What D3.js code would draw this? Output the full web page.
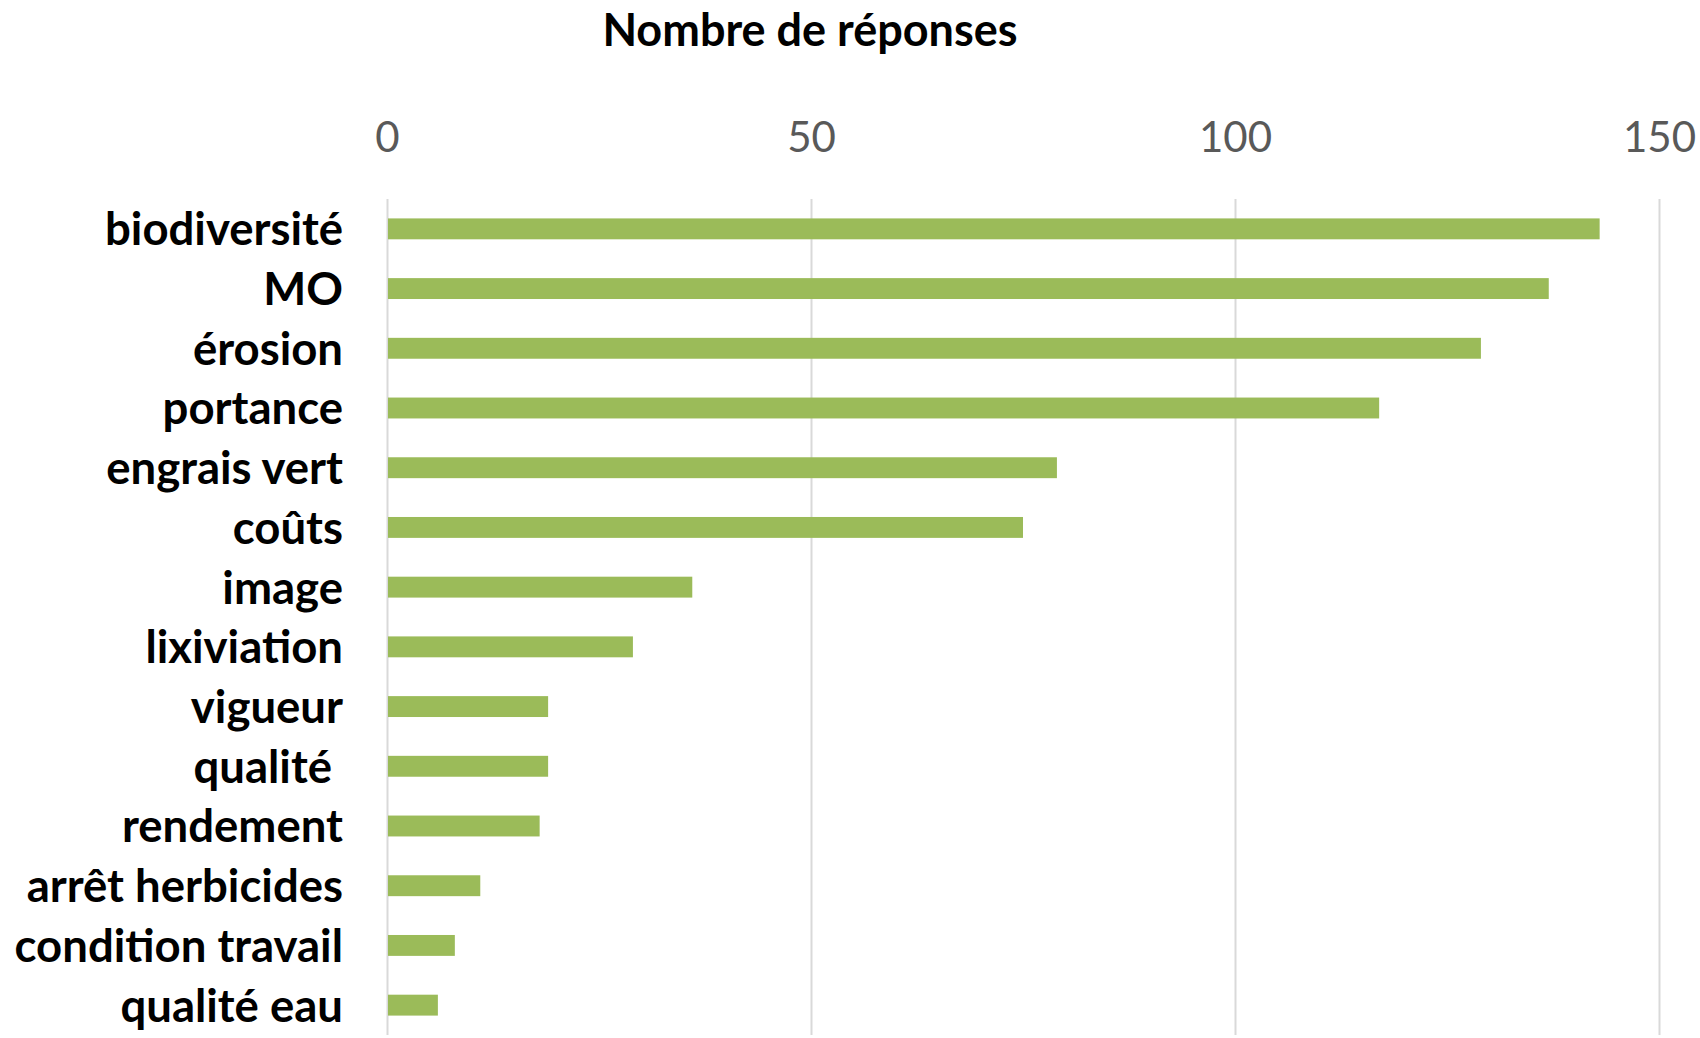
<!DOCTYPE html>
<meta charset="utf-8">
<head>
	<title>Nombre de réponses</title>
</head>
<style>
	body { margin: 0; background: #fff; }
	text { font-family: Lato, "Noto Sans", sans-serif; }
</style>
<body>
	<svg width="1700" height="1038"></svg>

	<script src="https://cdnjs.cloudflare.com/ajax/libs/d3/7.8.5/d3.min.js"></script>
	<script>
		var categories = ["biodiversité", "MO", "érosion", "portance", "engrais vert", "coûts", "image",
			"lixiviation", "vigueur", "qualité ", "rendement", "arrêt herbicides", "condition travail", "qualité eau"];
		var responses = [143, 137, 129, 117, 79, 75, 36, 29, 19, 19, 18, 11, 8, 6];
		var tickValues = [0, 50, 100, 150];

		var svg = d3.select("svg"),
			margin = {top: 199, right: 41, bottom: 3, left: 387},
			width = svg.attr("width") - margin.left - margin.right,
			height = svg.attr("height") - margin.top - margin.bottom;

		var g = svg.append("g")
			.attr("transform", "translate(" + margin.left + "," + margin.top + ")");

		var x = d3.scaleLinear()
			.domain([0, 150])
			.range([0, width]);

		var y = d3.scaleBand()
			.domain(categories)
			.range([0, height])
			.paddingInner(0.65)
			.paddingOuter(0.325);

		// x axis on top with gridlines running down
		var xAxis = d3.axisTop(x)
			.tickValues(tickValues)
			.tickSize(-height)
			.tickPadding(47);

		g.append("g")
			.call(xAxis)
			.call(function(a) {
				a.select(".domain").remove();
				a.selectAll(".tick line").attr("stroke", "#d9d9d9").attr("stroke-width", 2);
				a.selectAll(".tick text")
					.attr("fill", "#595959")
					.style("font-size", "42px");
			});

		// bars
		g.selectAll("rect.bar")
			.data(responses)
			.enter()
			.append("rect")
			.attr("class", "bar")
			.attr("x", x(0) + 1)
			.attr("y", function(d, i) { return y(categories[i]); })
			.attr("width", function(d) { return x(d) - x(0) - 1; })
			.attr("height", y.bandwidth())
			.attr("fill", "#9bbb59");

		// category labels
		var yAxis = d3.axisLeft(y)
			.tickSize(0)
			.tickPadding(44);

		g.append("g")
			.call(yAxis)
			.call(function(a) {
				a.select(".domain").remove();
				a.selectAll(".tick text")
					.attr("fill", "#000")
					.attr("dy", "0.36em")
					.style("font-size", "45.5px")
					.style("font-weight", "bold")
					.style("white-space", "pre");
			});

		// title
		svg.append("text")
			.attr("x", 810)
			.attr("y", 46)
			.attr("text-anchor", "middle")
			.style("font-size", "45px")
			.style("font-weight", "bold")
			.text("Nombre de réponses");
	</script>
</body>
</html>
